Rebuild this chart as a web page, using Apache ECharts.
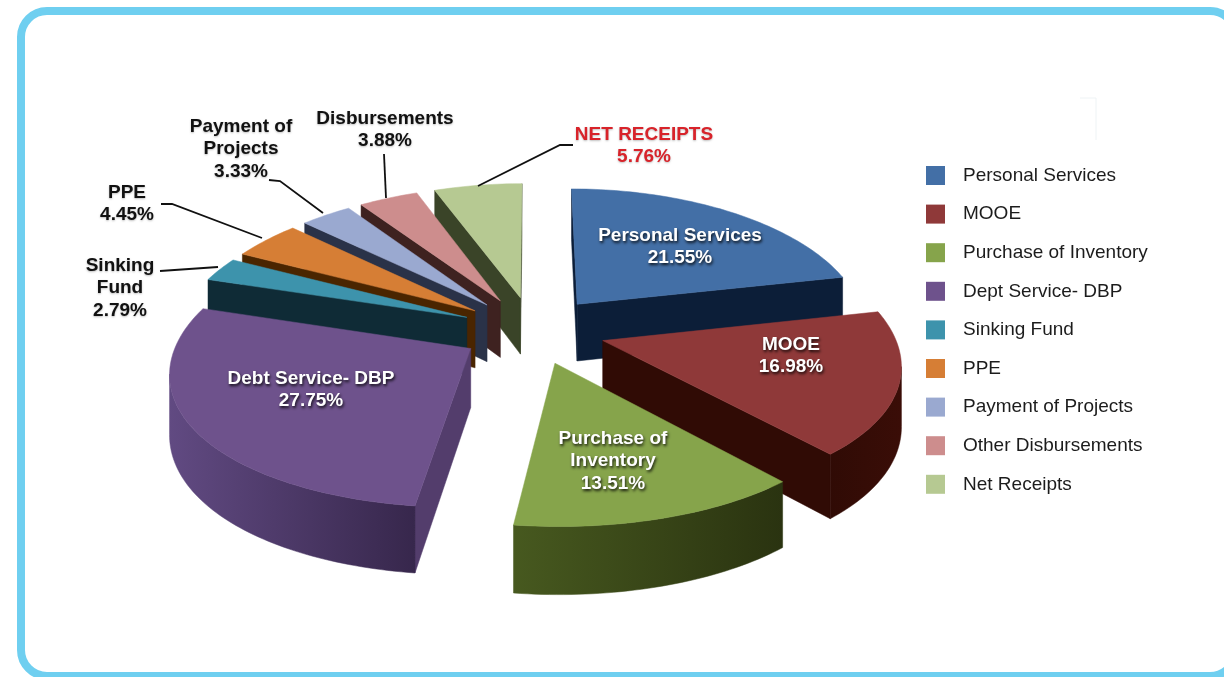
<!DOCTYPE html>
<html>
<head>
<meta charset="utf-8">
<title>Disbursements and net receipts</title>
<script src="https://cdn.jsdelivr.net/npm/echarts@6/dist/echarts.min.js"></script>
<style>
	html, body { margin: 0; padding: 0; background: #fff; overflow: hidden; }
	#chart { width: 1224px; height: 677px; }
</style>
</head>
<body>
<div id="chart"></div>
<script>
// 数据
const legendNames = [ 'Personal Services', 'MOOE', 'Purchase of Inventory', 'Dept Service- DBP', 'Sinking Fund', 'PPE', 'Payment of Projects', 'Other Disbursements', 'Net Receipts' ];
const labelNames = [ 'Personal Services', 'MOOE', 'Purchase of\nInventory', 'Debt Service- DBP', 'Sinking\nFund', 'PPE', 'Payment of\nProjects', 'Disbursements', 'NET RECEIPTS' ];
const shares = [ 21.55, 16.98, 13.51, 27.75, 2.79, 4.45, 3.33, 3.88, 5.76 ];

// 颜色
const topColors = [ '#436fa6', '#8f3939', '#86a44b', '#6e528c', '#3d93ac', '#d67e35', '#9aa9d0', '#cd8d8d', '#b6c992' ];
const sideColors = [ '#0c1e38', '#300b05', '#2a3512', '#533d6c', '#0f2b36', '#4a2500', '#2a3248', '#3e2220', '#3a4428' ];
const arcLeftColors = [ '#0c1e38', '#300b05', '#47591f', '#614a82', '#0f2b36', '#4a2500', '#2a3248', '#3e2220', '#3a4428' ];
const arcRightColors = [ '#0c1e38', '#3a0d07', '#2a3310', '#37274c', '#0f2b36', '#4a2500', '#2a3248', '#3e2220', '#3a4428' ];

// 标签位置 (label center, then leader line)
const labelSpots = [
	{ x: 680, y: 247, color: '#fff' },
	{ x: 791, y: 356, color: '#fff' },
	{ x: 613, y: 461, color: '#fff' },
	{ x: 311, y: 390, color: '#fff' },
	{ x: 120, y: 288, color: '#111', line: [ [ 218, 267 ], [ 160, 271 ] ] },
	{ x: 127, y: 204, color: '#111', line: [ [ 262, 238 ], [ 172, 204 ], [ 161, 204 ] ] },
	{ x: 241, y: 149, color: '#111', line: [ [ 323, 213 ], [ 280, 181 ], [ 269, 180 ] ] },
	{ x: 385, y: 130, color: '#111', line: [ [ 386, 198 ], [ 384, 154 ] ] },
	{ x: 644, y: 146, color: '#d8232a', line: [ [ 478, 186 ], [ 560, 145 ], [ 573, 145 ] ] }
];

// 透视投影
const pie = { cx: 533, cy: 330, rx: 290, ry: 135, tiltX: 0.15, tiltY: 0.12, explode: 0.25, depth: 58 };

const total = shares.reduce((a, b) => a + b, 0);
let acc = 0;
const slices = shares.map((v) => {
	let start = acc / total * Math.PI * 2;
	acc += v;
	return { start: start, end: acc / total * Math.PI * 2 };
});

function project(x, y) {
	let s = 1 / (1 - pie.tiltY * y);
	return { x: pie.cx + x * pie.rx / (1 - pie.tiltX * y), y: pie.cy + y * pie.ry * s, s: s };
}

function drop(p) {
	return [ p.x, p.y + pie.depth * p.s ];
}

function renderSlice(idx) {
	let sl = slices[idx];
	let mid = (sl.start + sl.end) / 2;
	let ox = pie.explode * Math.sin(mid);
	let oy = -pie.explode * Math.cos(mid);
	let apex = project(ox, oy);
	let arc = [];
	let steps = Math.max(6, Math.round((sl.end - sl.start) / 0.02));
	for (let i = 0; i <= steps; i++) {
		let a = sl.start + (sl.end - sl.start) * i / steps;
		arc.push(project(ox + Math.sin(a), oy - Math.cos(a)));
	}
	let children = [];
	let wall = (a, b, fill) => {
		children.push({
			type: 'polygon',
			shape: { points: a.map((p) => [ p.x, p.y ]).concat(b.map(drop).reverse()) },
			style: { fill: fill, stroke: fill, lineWidth: 0.5 }
		});
	};
	// 只画朝向观察者的侧面
	if (arc[0].x < apex.x) {
		wall([ apex, arc[0] ], [ apex, arc[0] ], sideColors[idx]);
	}
	let visible = arc.filter((p, i) => (i < steps && arc[i + 1].x < p.x) || (i > 0 && p.x < arc[i - 1].x));
	if (visible.length > 1) {
		let fill = new echarts.graphic.LinearGradient(0, 0, 1, 0, [
			{ offset: 0, color: arcLeftColors[idx] },
			{ offset: 1, color: arcRightColors[idx] }
		]);
		wall(visible, visible, fill);
	}
	let last = arc[arc.length - 1];
	if (apex.x < last.x) {
		wall([ last, apex ], [ last, apex ], sideColors[idx]);
	}
	children.push({
		type: 'polygon',
		shape: { points: [ apex ].concat(arc).map((p) => [ p.x, p.y ]) },
		style: { fill: topColors[idx], stroke: topColors[idx], lineWidth: 0.5 }
	});
	return { type: 'group', children: children };
}

// 前面的扇形后画
const depthOrder = slices
	.map((sl, i) => ({ i: i, y: -Math.cos((sl.start + sl.end) / 2) }))
	.sort((a, b) => a.y - b.y)
	.map((o) => o.i);

const labelGraphics = [];
labelNames.forEach((name, i) => {
	let spot = labelSpots[i];
	let inside = spot.color === '#fff';
	labelGraphics.push({
		type: 'text',
		z: 100,
		style: {
			x: spot.x,
			y: spot.y,
			text: name + '\n' + shares[i].toFixed(2) + '%',
			fill: spot.color,
			font: 'bold 19px "Liberation Sans", Arial, sans-serif',
			lineHeight: 22.5,
			align: 'center',
			verticalAlign: 'middle',
			textShadowColor: inside ? 'rgba(0,0,0,0.85)' : 'rgba(0,0,0,0.25)',
			textShadowBlur: inside ? 3 : 2,
			textShadowOffsetX: inside ? 1 : 0,
			textShadowOffsetY: inside ? 2 : 1
		}
	});
	if (spot.line) {
		labelGraphics.push({
			type: 'polyline',
			z: 100,
			shape: { points: spot.line },
			style: { fill: null, stroke: '#111', lineWidth: 1.8 }
		});
	}
});

const myChart = echarts.init(document.getElementById('chart'), null, { renderer: 'canvas' });
myChart.setOption({
	animation: false,
	color: topColors,
	legend: {
		data: legendNames,
		orient: 'vertical',
		left: 921,
		top: 161,
		icon: 'rect',
		itemWidth: 19,
		itemHeight: 19,
		itemGap: 19.6,
		selectedMode: false,
		textStyle: {
			color: '#1c1c1c',
			fontSize: 19,
			fontFamily: '"Liberation Sans", Arial, sans-serif',
			padding: [ 0, 0, 0, 13 ]
		}
	},
	graphic: {
		elements: [
			{
				type: 'rect',
				z: 0,
				shape: { x: 21, y: 11, width: 1215, height: 665, r: 26 },
				style: { fill: '#fff', stroke: '#6fcff0', lineWidth: 8 }
			},
			{
				type: 'polyline',
				z: 0,
				shape: { points: [ [ 1080, 98 ], [ 1096, 98 ], [ 1096, 140 ] ] },
				style: { fill: null, stroke: '#eef3f5', lineWidth: 1 }
			}
		].concat(labelGraphics)
	},
	series: legendNames.map((name, idx) => ({
		type: 'custom',
		name: name,
		coordinateSystem: 'none',
		z: 2 + depthOrder.indexOf(idx),
		silent: true,
		itemStyle: { color: topColors[idx] },
		data: [ shares[idx] ],
		renderItem: () => renderSlice(idx)
	}))
});
</script>
</body>
</html>
